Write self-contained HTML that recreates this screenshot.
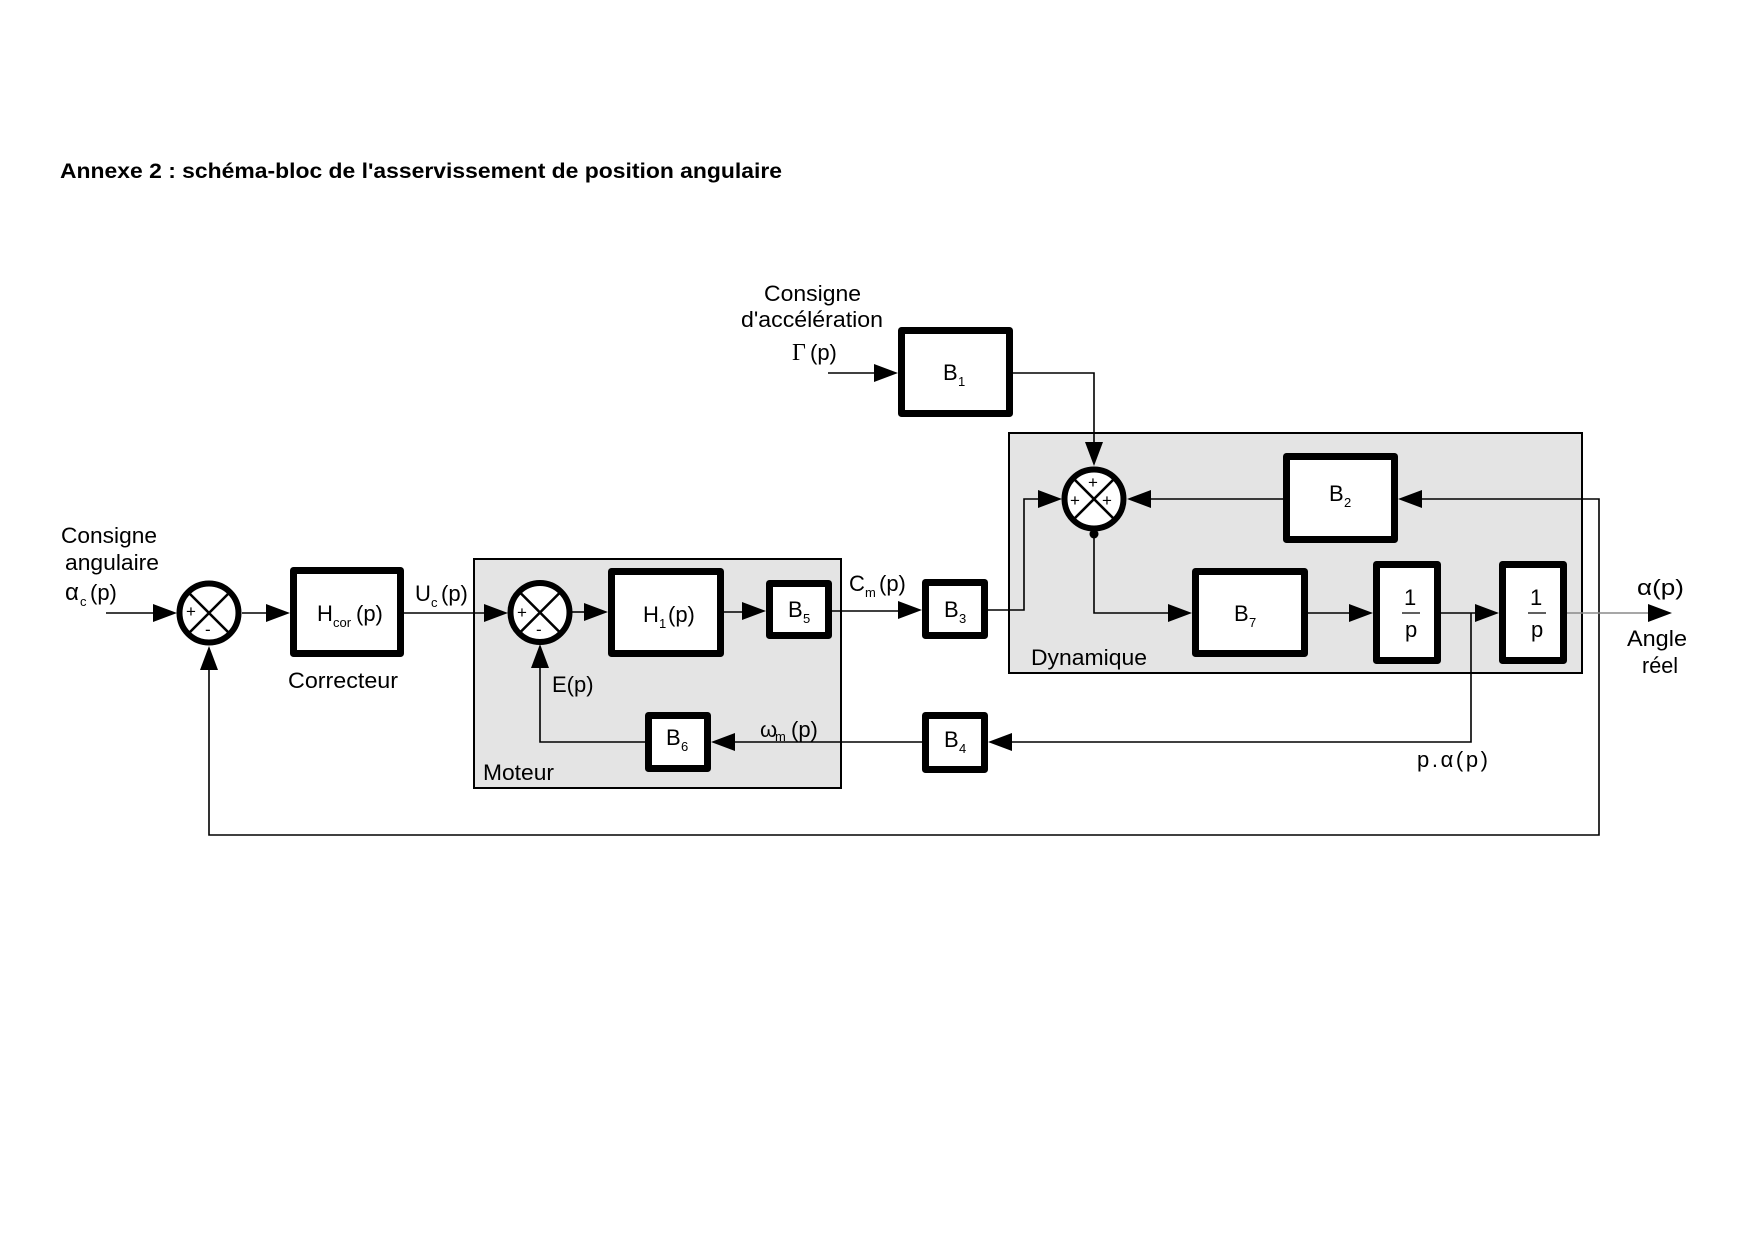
<!DOCTYPE html>
<html>
<head>
<meta charset="utf-8">
<style>
html,body{margin:0;padding:0;background:#fff;}
svg{display:block;}
text{font-family:"Liberation Sans",Arial,sans-serif;fill:#000;}
.t{font-size:22px;}
.s{font-size:13px;}
.l{font-size:22px;}
</style>
</head>
<body>
<svg width="1754" height="1240" viewBox="0 0 1754 1240" xmlns="http://www.w3.org/2000/svg">
<rect width="1754" height="1240" fill="#fff"/>

<!-- Title -->
<text x="60" y="178" font-size="21" font-weight="bold" textLength="722" lengthAdjust="spacingAndGlyphs">Annexe 2 : schéma-bloc de l'asservissement de position angulaire</text>

<!-- Group backgrounds -->
<rect x="474" y="559" width="367" height="229" fill="#e4e4e4" stroke="#000" stroke-width="2"/>
<rect x="1009" y="433" width="573" height="240" fill="#e4e4e4" stroke="#000" stroke-width="2"/>

<!-- Connector lines -->
<g fill="none" stroke="#000" stroke-width="1.6">
<path d="M106 613 H155"/>
<path d="M242 613 H269"/>
<path d="M404 613 H486"/>
<path d="M572 612 H587"/>
<path d="M724 612 H745"/>
<path d="M832 611 H900"/>
<path d="M988 610 H1024 V499 H1040"/>
<path d="M1150 499 H1283"/>
<path d="M1420 499 H1599 V835 H209 V668"/>
<path d="M1013 373 H1094 V444"/>
<path d="M828 373 H877"/>
<path d="M1094 534 V613 H1171"/>
<path d="M1308 613 H1352"/>
<path d="M1441 613 H1478"/>
<path d="M1471 613 V742 H1011"/>
<path d="M922 742 H734"/>
<path d="M645 742 H540 V667"/>
</g>
<path d="M1567 613 H1652" stroke="#8a8a8a" stroke-width="1.6" fill="none"/>

<!-- Arrowheads -->
<g fill="#000">
<polygon points="153,604 177,613 153,622"/>
<polygon points="266,604 290,613 266,622"/>
<polygon points="484,604 508,613 484,622"/>
<polygon points="584,603 608,612 584,621"/>
<polygon points="742,602 766,611 742,620"/>
<polygon points="898,601 922,610 898,619"/>
<polygon points="1038,490 1062,499 1038,508"/>
<polygon points="1151,490 1127,499 1151,508"/>
<polygon points="1422,490 1398,499 1422,508"/>
<polygon points="1085,442 1094,466 1103,442"/>
<polygon points="874,364 898,373 874,382"/>
<polygon points="1168,604 1192,613 1168,622"/>
<polygon points="1349,604 1373,613 1349,622"/>
<polygon points="1475,604 1499,613 1475,622"/>
<polygon points="1648,604 1672,613 1648,622"/>
<polygon points="1012,733 988,742 1012,751"/>
<polygon points="735,733 711,742 735,751"/>
<polygon points="531,668 540,644 549,668"/>
<polygon points="200,670 209,646 218,670"/>
</g>

<!-- Summators -->
<g stroke="#000" fill="#fff">
<circle cx="209" cy="613" r="29.5" stroke-width="6"/>
<circle cx="540" cy="612.5" r="29.5" stroke-width="6"/>
<circle cx="1094" cy="499" r="29.5" stroke-width="6"/>
</g>
<g stroke="#000" stroke-width="2.6">
<path d="M188 592 L230 634 M230 592 L188 634"/>
<path d="M519 591.5 L561 633.5 M561 591.5 L519 633.5"/>
<path d="M1073 478 L1115 520 M1115 478 L1073 520"/>
</g>
<circle cx="1094" cy="534" r="4.5" fill="#000"/>
<g font-size="17">
<text x="186" y="617">+</text>
<text x="205" y="635">-</text>
<text x="517" y="618">+</text>
<text x="536" y="635">-</text>
<text x="1088" y="488">+</text>
<text x="1070" y="506">+</text>
<text x="1102" y="506">+</text>
</g>

<!-- Blocks -->
<g fill="#fff" stroke="#000" stroke-width="7" stroke-linejoin="round">
<rect x="293.5" y="570.5" width="107" height="83"/>
<rect x="611.5" y="571.5" width="109" height="82"/>
<rect x="769.5" y="583.5" width="59" height="52"/>
<rect x="925.5" y="582.5" width="59" height="53"/>
<rect x="925.5" y="715.5" width="59" height="54"/>
<rect x="648.5" y="715.5" width="59" height="53"/>
<rect x="901.5" y="330.5" width="108" height="83"/>
<rect x="1286.5" y="456.5" width="108" height="83"/>
<rect x="1195.5" y="571.5" width="109" height="82"/>
<rect x="1376.5" y="564.5" width="61" height="96"/>
<rect x="1502.5" y="564.5" width="61" height="96"/>
</g>

<!-- Block labels -->
<text class="t" x="317" y="621">H</text><text class="s" x="333" y="627">cor</text><text class="t" x="356" y="621">(p)</text>
<text class="t" x="643" y="622">H</text><text class="s" x="659" y="628">1</text><text class="t" x="668" y="622">(p)</text>
<text class="t" x="788" y="617">B</text><text class="s" x="803" y="623">5</text>
<text class="t" x="944" y="617">B</text><text class="s" x="959" y="623">3</text>
<text class="t" x="944" y="747">B</text><text class="s" x="959" y="753">4</text>
<text class="t" x="666" y="745">B</text><text class="s" x="681" y="751">6</text>
<text class="t" x="943" y="380">B</text><text class="s" x="958" y="386">1</text>
<text class="t" x="1329" y="501">B</text><text class="s" x="1344" y="507">2</text>
<text class="t" x="1234" y="621">B</text><text class="s" x="1249" y="627">7</text>
<text class="t" x="1404" y="605">1</text>
<path d="M1402 613 H1420" stroke="#000" stroke-width="1.2"/>
<text class="t" x="1405" y="637">p</text>
<text class="t" x="1530" y="605">1</text>
<path d="M1528 613 H1546" stroke="#000" stroke-width="1.2"/>
<text class="t" x="1531" y="637">p</text>

<!-- Labels -->
<text class="l" x="61" y="543" textLength="96" lengthAdjust="spacingAndGlyphs">Consigne</text>
<text class="l" x="65" y="570" textLength="94" lengthAdjust="spacingAndGlyphs">angulaire</text>
<text x="65" y="600" font-size="24">α</text><text class="s" x="80" y="606">c</text><text class="l" x="90" y="600">(p)</text>

<text class="l" x="288" y="688" textLength="110" lengthAdjust="spacingAndGlyphs">Correcteur</text>
<text class="l" x="415" y="601">U</text><text class="s" x="431" y="607">c</text><text class="l" x="441" y="601">(p)</text>
<text class="l" x="552" y="692">E(p)</text>
<text class="l" x="760" y="737">ω</text><text class="s" x="775" y="741">m</text><text class="l" x="791" y="737">(p)</text>
<text class="l" x="483" y="780" textLength="71" lengthAdjust="spacingAndGlyphs">Moteur</text>
<text class="l" x="849" y="591">C</text><text class="s" x="865" y="597">m</text><text class="l" x="879" y="591">(p)</text>

<text class="l" x="764" y="301" textLength="97" lengthAdjust="spacingAndGlyphs">Consigne</text>
<text class="l" x="741" y="327" textLength="142" lengthAdjust="spacingAndGlyphs">d'accélération</text>
<text x="792" y="360" font-size="24" style="font-family:'Liberation Serif',serif">Γ</text><text class="l" x="810" y="360">(p)</text>

<text class="l" x="1031" y="665" textLength="116" lengthAdjust="spacingAndGlyphs">Dynamique</text>
<text class="l" x="1637" y="595" textLength="47" lengthAdjust="spacingAndGlyphs">α(p)</text>
<text class="l" x="1627" y="646" textLength="60" lengthAdjust="spacingAndGlyphs">Angle</text>
<text class="l" x="1642" y="673" textLength="36" lengthAdjust="spacingAndGlyphs">réel</text>
<text class="l" x="1417" y="767" textLength="71" lengthAdjust="spacing">p.α(p)</text>
</svg>
</body>
</html>
